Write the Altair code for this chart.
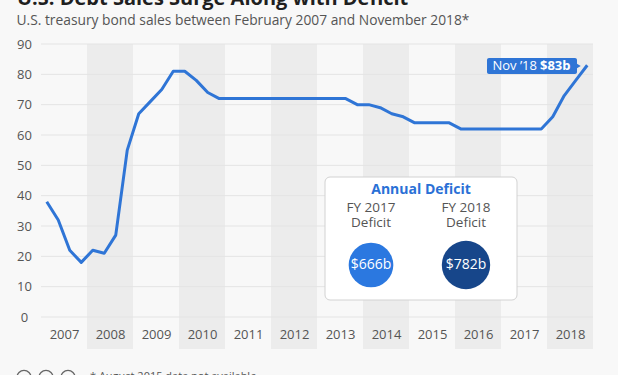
import altair as alt
import pandas as pd

# ---- data -------------------------------------------------------------
years = [2007]*4 + [2008]*4 + [2009]*4 + [2010]*4 + [2011]*4 + [2012]*4 + \
        [2013]*4 + [2014]*4 + [2015]*3 + [2016]*4 + [2017]*4 + [2018]*4
months = [2, 5, 8, 11]*8 + [2, 5, 11] + [2, 5, 8, 11]*3
sales = [38, 32, 22, 18,
         22, 21, 27, 55,
         67, 71, 75, 81,
         81, 78, 74, 72,
         72, 72, 72, 72,
         72, 72, 72, 72,
         72, 72, 72, 70,
         70, 69, 67, 66,
         64, 64, 64,
         62, 62, 62, 62,
         62, 62, 62, 62,
         66, 73, 78, 83]
axis_years = list(range(2007, 2019))
band_years = [2008, 2010, 2012, 2014, 2016, 2018]
grid_values = [0, 10, 20, 30, 40, 50, 60, 70, 80, 90]
fy_labels = ["FY 2017", "FY 2018"]
deficits = [666, 782]

FONT = "Open Sans"
BLUE = "#2f75d6"
FY_X = [330, 425]   # pixel centres of the two deficit bubbles

df = pd.DataFrame({"year": years, "month": months, "v": sales})
df["t"] = df["year"] + (df["month"] - 0.5) / 12
bands = pd.DataFrame({"start": band_years, "end": [y + 1 for y in band_years]})
grid = pd.DataFrame({"g": grid_values})
fy = pd.DataFrame({"fy": fy_labels, "deficit": deficits,
                   "label": [f"${d}b" for d in deficits]})
last_label_a = "Nov \u201918"
last_label_b = f"${sales[-1]}b"

xs = alt.Scale(domain=[2007, 2019], nice=False, zero=False)
ys = alt.Scale(domain=[0, 90], nice=False)
one = alt.Data(values=[{}])

xaxis = alt.Axis(values=[y + 0.5 for y in axis_years],
                 labelExpr="format(floor(datum.value), 'd')",
                 title=None, domain=False, ticks=False, tickSize=0, grid=False,
                 labelOverlap=False, labelFlush=False, zindex=1,
                 labelPadding=11, labelFontSize=13, labelColor="#555555",
                 labelFont=FONT)
yaxis = alt.Axis(values=grid_values, title=None, domain=False, ticks=False,
                 tickSize=0, grid=False, labelAlign="center", labelPadding=17,
                 labelOverlap=False,
                 labelFontSize=13, labelColor="#555555", labelFont=FONT)

band_layer = alt.Chart(bands).mark_rect(color="#ececec").encode(
    x=alt.X("start:Q", scale=xs, axis=xaxis), x2="end:Q",
    y=alt.value(0), y2=alt.value(305))

grid_layer = alt.Chart(grid).mark_rule(color="#e4e4e4", strokeWidth=1).encode(
    y=alt.Y("g:Q", scale=ys, axis=yaxis), x=alt.value(0), x2=alt.value(552))

line_layer = alt.Chart(df).mark_line(color=BLUE, strokeWidth=3, strokeJoin="round").encode(
    x=alt.X("t:Q", scale=xs, axis=xaxis),
    y=alt.Y("v:Q", scale=ys, axis=yaxis))

# annotation for the last point
ann_box = alt.Chart(one).mark_rect(color=BLUE, cornerRadius=2).encode(
    x=alt.value(446), x2=alt.value(536), y=alt.value(14), y2=alt.value(30))
ann_arrow = alt.Chart(one).mark_point(shape="triangle-right", filled=True, color=BLUE,
                                      size=40, opacity=1).encode(
    x=alt.value(537), y=alt.value(22))
ann_a = alt.Chart(one).mark_text(text=last_label_a, font=FONT, fontSize=13, color="white",
                                 align="right", baseline="middle").encode(
    x=alt.value(496), y=alt.value(22))
ann_b = alt.Chart(one).mark_text(text=last_label_b, font=FONT, fontSize=13, color="white",
                                 fontWeight="bold", align="left", baseline="middle").encode(
    x=alt.value(499), y=alt.value(22))

# deficit box
box = alt.Chart(one).mark_rect(fill="white", stroke="#d2d2d2", strokeWidth=1,
                               cornerRadius=5).encode(
    x=alt.value(284), x2=alt.value(476), y=alt.value(133), y2=alt.value(256))
box_title = alt.Chart(one).mark_text(text="Annual Deficit", font=FONT, fontSize=14,
                                     fontWeight="bold", color="#2a70d6",
                                     align="center", baseline="middle").encode(
    x=alt.value(380), y=alt.value(146))

size_scale = alt.Scale(domain=[0, 782], range=[0, 2341])
color_scale = alt.Scale(domain=fy_labels, range=["#2b78e0", "#17468a"])
deficit_layers = []
for name, px in zip(fy_labels, FY_X):
    base = alt.Chart(fy).transform_filter(alt.datum.fy == name)
    deficit_layers += [
        base.mark_circle(opacity=1).encode(
            x=alt.value(px), y=alt.value(221),
            size=alt.Size("deficit:Q", scale=size_scale, legend=None),
            color=alt.Color("fy:N", scale=color_scale, legend=None)),
        base.mark_text(font=FONT, fontSize=14, color="white", align="center",
                       baseline="middle").encode(
            x=alt.value(px), y=alt.value(221), text="label:N"),
        base.mark_text(font=FONT, fontSize=13.5, color="#555555", align="center",
                       baseline="middle").encode(
            x=alt.value(px), y=alt.value(164), text="fy:N"),
        base.mark_text(font=FONT, fontSize=13.5, color="#555555", align="center",
                       baseline="middle", text="Deficit").encode(
            x=alt.value(px), y=alt.value(179)),
    ]

# titles and footer
title = alt.Chart(one).mark_text(text="U.S. Debt Sales Surge Along with Deficit", font=FONT,
                                 fontSize=20, fontWeight="bold", color="#1f1f1f",
                                 align="left", baseline="alphabetic").encode(
    x=alt.value(-24), y=alt.value(-39))
subtitle = alt.Chart(one).mark_text(
    text="U.S. treasury bond sales between February 2007 and November 2018*", font=FONT,
    fontSize=13.8, color="#555555", align="left", baseline="alphabetic").encode(
    x=alt.value(-24.5), y=alt.value(-19.5))
footer = alt.Chart(one).mark_text(text="* August 2015 data not available", font=FONT,
                                  fontSize=11, color="#555555", align="left",
                                  baseline="top").encode(
    x=alt.value(49), y=alt.value(327))
icon_layers = [alt.Chart(one).mark_point(shape="circle", filled=False, color="#666666",
                                         strokeWidth=1.3, size=200, opacity=1).encode(
    x=alt.value(px), y=alt.value(333.5)) for px in (-17, 5, 27)]

chart = alt.layer(
    band_layer, grid_layer, line_layer,
    ann_box, ann_arrow, ann_a, ann_b,
    box, box_title, *deficit_layers,
    title, subtitle, footer, *icon_layers
).properties(
    width=552, height=273,
    padding={"left": 41, "top": 44, "right": 25, "bottom": 58},
    autosize=alt.AutoSizeParams(type="none"),
    background="#f8f8f8",
).configure_view(stroke=None)

chart.save("out.html", embed_options={"renderer": "svg", "actions": False})
